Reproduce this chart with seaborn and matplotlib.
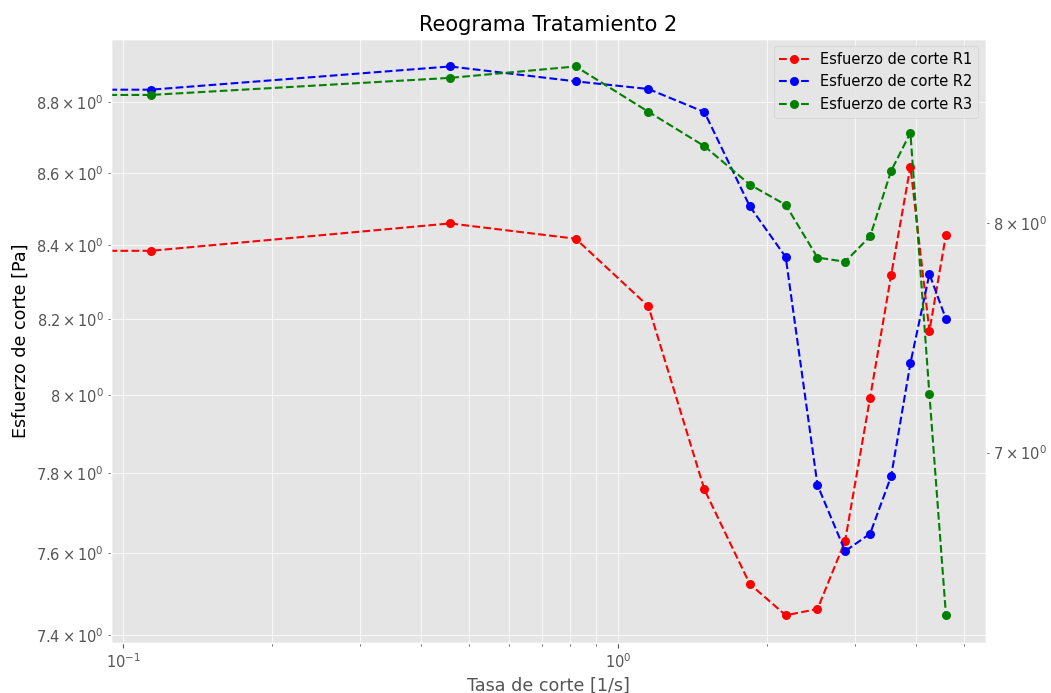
import numpy as np
import pandas as pd
import matplotlib
matplotlib.use("Agg")
import matplotlib.pyplot as plt
import seaborn as sns

# Shear rate [1/s] (first value is 0 -> clipped on the log axis)
tasa = [0.0, 0.1136, 0.457, 0.820, 1.150, 1.492, 1.843, 2.178, 2.525,
        2.871, 3.225, 3.556, 3.89, 4.25, 4.59]
# Shear stress [Pa]
r1 = [8.385, 8.385, 8.460, 8.418, 8.235, 7.759, 7.524, 7.448, 7.463,
      7.630, 7.994, 8.318, 8.618, 8.169, 8.429]
r2 = [8.836, 8.836, 8.903, 8.860, 8.838, 8.772, 8.507, 8.368, 7.770,
      7.605, 7.648, 7.792, 8.084, 8.322, 8.201]
r3 = [8.619, 8.619, 8.705, 8.763, 8.535, 8.366, 8.181, 8.085, 7.841,
      7.822, 7.938, 8.246, 8.431, 7.241, 6.368]

labels = ["Esfuerzo de corte R1", "Esfuerzo de corte R2", "Esfuerzo de corte R3"]
colors = ["red", "blue", "green"]

plt.style.use("ggplot")
plt.rcParams["xtick.labelsize"] = 10.5
plt.rcParams["ytick.labelsize"] = 10.5

df = pd.DataFrame({"tasa": tasa, "r1": r1, "r2": r2, "r3": r3})

fig, ax = plt.subplots(figsize=(10.51, 6.93), dpi=100)
fig.subplots_adjust(left=0.1056, right=0.9379, top=0.9437, bottom=0.0726)

common = dict(marker="o", linestyle="--", linewidth=1.5, markersize=6.5,
              markeredgewidth=0, sort=False, errorbar=None)

sns.lineplot(data=df, x="tasa", y="r1", ax=ax, color=colors[0],
             label=labels[0], **common)
sns.lineplot(data=df, x="tasa", y="r2", ax=ax, color=colors[1],
             label=labels[1], **common)
if ax.get_legend() is not None:
    ax.get_legend().remove()

ax2 = ax.twinx()
sns.lineplot(data=df, x="tasa", y="r3", ax=ax2, color=colors[2],
             label=labels[2], **common)
if ax2.get_legend() is not None:
    ax2.get_legend().remove()

ax.set_xscale("log")
ax.set_yscale("log")
ax2.set_yscale("log")
ax.autoscale_view()
ax2.autoscale_view()

ax.grid(True, which="both", color="white", linewidth=0.6, alpha=0.9)
ax2.grid(False)
ax2.set_ylabel("")

ax.set_title("Reograma Tratamiento 2", fontsize=15, color="black")
ax.set_xlabel("Tasa de corte [1/s]", fontsize=12.6, color="#555555")
ax.set_ylabel("Esfuerzo de corte [Pa]", fontsize=12.6, color="black")

h1, l1 = ax.get_legend_handles_labels()
h2, l2 = ax2.get_legend_handles_labels()
ax2.legend(h1 + h2, l1 + l2, loc="upper right", fontsize=10.5)

fig.savefig("out.png", dpi=100)
